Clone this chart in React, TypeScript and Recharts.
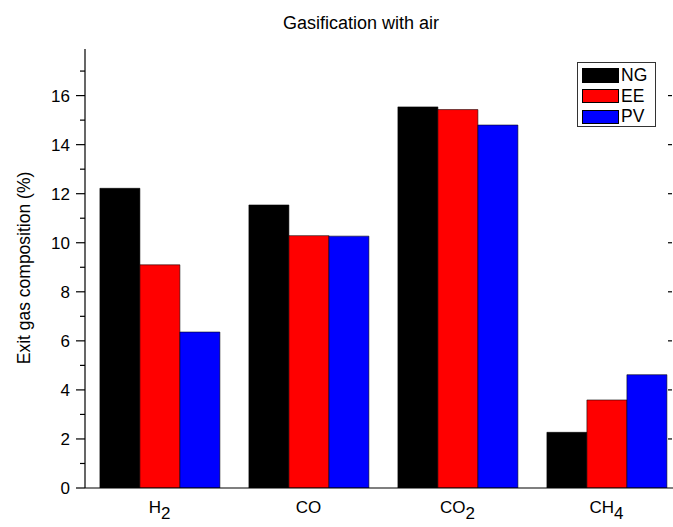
import { BarChart, Bar, XAxis, YAxis } from "recharts";

const categories = ["H2", "CO", "CO2", "CH4"];
const labelBase = ["H", "CO", "CO", "CH"];
const labelSub = ["2", "", "2", "4"];
const ngValues = [12.22, 11.54, 15.54, 2.27];
const eeValues = [9.1, 10.29, 15.43, 3.59];
const pvValues = [6.36, 10.27, 14.8, 4.62];
const yTicks = [0, 1, 2, 3, 4, 5, 6, 7, 8, 9, 10, 11, 12, 13, 14, 15, 16, 17];
const seriesNames = ["NG", "EE", "PV"];
const seriesColors = ["#000000", "#ff0000", "#0000ff"];

const data = categories.map((name, i) => ({
  name,
  NG: ngValues[i],
  EE: eeValues[i],
  PV: pvValues[i],
}));

const FONT = '"Liberation Sans", Arial, sans-serif';
const PLOT_LEFT = 85;

// left axis ticks (major with labels, minor without) plus the inner right-axis dashes
const LeftTick = (props: any) => {
  const { y, payload } = props;
  const v = payload.value as number;
  const major = v % 2 === 0;
  return (
    <g>
      <line x1={major ? 76 : 80} x2={PLOT_LEFT} y1={y} y2={y} stroke="#000" strokeWidth={1.2} />
      {major && v > 0 && <line x1={668} x2={672} y1={y} y2={y} stroke="#000" strokeWidth={1.2} />}
      {major && (
        <text x={70} y={y} dy="0.36em" textAnchor="end" fontSize={17} fontFamily={FONT} fill="#000">
          {v}
        </text>
      )}
    </g>
  );
};

const CategoryTick = (props: any) => {
  const { x, index } = props;
  return (
    <text x={x} y={513} textAnchor="middle" fontSize={17} fontFamily={FONT} fill="#000">
      {labelBase[index]}
      {labelSub[index] && <tspan dy={6}>{labelSub[index]}</tspan>}
    </text>
  );
};

export default function App() {
  return (
    <div
      style={{
        position: "fixed",
        left: 0,
        top: 0,
        width: 673,
        height: 527,
        overflow: "hidden",
        background: "#fff",
        fontFamily: FONT,
      }}
    >
      <div
        style={{
          position: "absolute",
          left: 0,
          width: 722,
          top: 14,
          textAlign: "center",
          fontSize: 18,
          lineHeight: "18px",
          color: "#000",
        }}
      >
        Gasification with air
      </div>
      <BarChart
        width={700}
        height={527}
        data={data}
        margin={{ top: 49, right: 19, bottom: 0, left: 0 }}
        barCategoryGap="10%"
        barGap={0}
      >
        <XAxis
          dataKey="name"
          height={39}
          axisLine={{ stroke: "#000", strokeWidth: 1.2 }}
          tickLine={false}
          tick={<CategoryTick />}
          interval={0}
        />
        <XAxis
          xAxisId="top"
          dataKey="name"
          orientation="top"
          height={0}
          axisLine={{ stroke: "#000", strokeWidth: 1.2 }}
          tickLine={false}
          tick={false}
        />
        <YAxis
          width={PLOT_LEFT}
          domain={[0, 17.9]}
          ticks={yTicks}
          interval={0}
          allowDataOverflow
          axisLine={{ stroke: "#000", strokeWidth: 1.2 }}
          tickLine={false}
          tick={<LeftTick />}
          label={{
            content: () => (
              <text
                x={30}
                y={268}
                transform="rotate(-90 30 268)"
                textAnchor="middle"
                fontSize={17.5}
                fontFamily={FONT}
                fill="#000"
              >
                Exit gas composition (%)
              </text>
            ),
          }}
        />
        {seriesNames.map((s, i) => (
          <Bar
            key={s}
            dataKey={s}
            fill={seriesColors[i]}
            stroke="#000"
            strokeWidth={0.8}
            strokeOpacity={0.7}
            isAnimationActive={false}
          />
        ))}
      </BarChart>
      <div
        style={{
          position: "absolute",
          left: 577,
          top: 62,
          width: 77,
          height: 63,
          border: "1px solid #333",
          background: "#fff",
        }}
      >
        {seriesNames.map((s, i) => (
          <div
            key={s}
            style={{
              position: "absolute",
              left: 4,
              top: 5 + i * 20.7,
              display: "flex",
              alignItems: "center",
              height: 15,
            }}
          >
            <div
              style={{
                width: 35,
                height: 12.5,
                background: seriesColors[i],
                border: "1px solid #000",
              }}
            />
            <span style={{ marginLeft: 2, fontSize: 17.5, lineHeight: "15px", color: "#000" }}>{s}</span>
          </div>
        ))}
      </div>
    </div>
  );
}
